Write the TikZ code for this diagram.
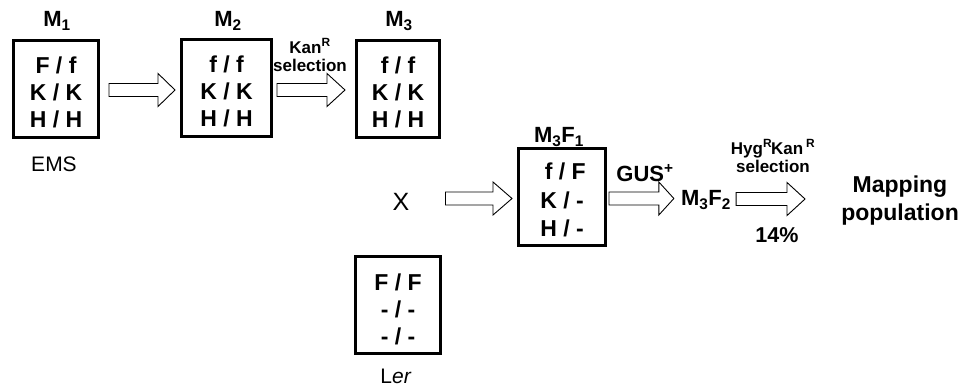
\documentclass[tikz,border=0pt]{standalone}
\usepackage{fontspec}
\setmainfont{Liberation Sans}
\usetikzlibrary{calc}
\newcommand\topstrut{\rule{0pt}{23pt}}
\tikzset{
  genobox/.style={draw, line width=3pt, minimum height=97pt, inner sep=0pt,
    align=center, font=\fontsize{23}{27}\selectfont\bfseries},
  lab/.style={inner sep=0pt, font=\fontsize{22}{26}\selectfont\bfseries},
  small/.style={inner sep=0pt, align=center, font=\fontsize{17}{18}\selectfont\bfseries},
  plain/.style={inner sep=0pt, font=\fontsize{21}{24}\selectfont},
  blk/.style={draw, line width=0.9pt, fill=white, line join=miter},
}
\newcommand\blockarr[3]{%
  \draw[blk] let \p1=(#1), \p2=(#2) in
    (\x1,\y1+6.5pt) -- (\x2-#3pt,\y1+6.5pt) -- (\x2-#3pt,\y1+16.5pt) --
    (\x2,\y1) -- (\x2-#3pt,\y1-16.5pt) -- (\x2-#3pt,\y1-6.5pt) --
    (\x1,\y1-6.5pt) -- cycle;}
\begin{document}
\begin{tikzpicture}[x=1pt,y=-1pt]
\useasboundingbox (0,0) rectangle (960,387);
% boxes
\node[genobox, minimum width=85pt] (m1) at (56,89) {\topstrut F / f\\K / K\\H / H};
\node[genobox, minimum width=90pt] (m2) at (226.5,88) {\topstrut f / f\\K / K\\H / H};
\node[genobox, minimum width=83pt] (m3) at (398,89) {\topstrut f / f\\K / K\\H / H};
\node[genobox, minimum width=87pt, font=\fontsize{23}{28.5}\selectfont\bfseries] (m3f1) at (562,197) {\topstrut\ f / F\\K / -\\H / -};
\node[genobox, minimum width=85pt] (ler) at (398,305) {\rule{0pt}{26pt}F / F\\- / -\\- / -};
% labels
\node[lab] (lm1) at (57,21) {M\textsubscript{1}};
\node[lab] (lm2) at (228,21) {M\textsubscript{2}};
\node[lab] (lm3) at (399,21) {M\textsubscript{3}};
\node[lab] (lm3f1) at (559,137) {M\textsubscript{3}F\textsubscript{1}};
\node[plain] (ems) at (54,164) {EMS};
\node[plain, font=\fontsize{25}{28}\selectfont] (x) at (401,202) {X};
\node[plain] (lerl) at (396,376) {L\textit{er}};
\node[small] (kan) at (310,55) {Kan\textsuperscript{R}\\selection};
\node[lab] (gus) at (645,173) {GUS\textsuperscript{+}};
\node[lab] (m3f2) at (706,200) {M\textsubscript{3}F\textsubscript{2}};
\node[small] (hyg) at (773,156) {Hyg\textsuperscript{R}\kern-1ptKan\,\textsuperscript{R}\\selection};
\node[lab, font=\fontsize{21.5}{24}\selectfont\bfseries] (pct) at (777,235) {14\%};
\node[lab, align=center, font=\fontsize{23}{28}\selectfont\bfseries] (map) at (900,201) {Mapping\\population};
% arrows
\coordinate (a1s) at ($(m1.east)+(9,1)$);
\coordinate (a1e) at ($(m2.west)+(-5,2)$);
\coordinate (a2s) at ($(m2.east)+(4,2)$);
\coordinate (a2e) at ($(m3.west)+(-10,1)$);
\coordinate (a3s) at ($(x.east)+(36,-3.5)$);
\coordinate (a3e) at ($(m3f1.west)+(-5,1.5)$);
\coordinate (a4s) at ($(m3f1.east)+(2,1.5)$);
\coordinate (a4e) at ($(m3f2.west)+(-7,-1.5)$);
\coordinate (a5s) at ($(m3f2.east)+(5,-1)$);
\coordinate (a5e) at ($(map.west)+(-36,-2)$);
\blockarr{a1s}{a1e}{17}
\blockarr{a2s}{a2e}{18}
\blockarr{a3s}{a3e}{19}
\blockarr{a4s}{a4e}{15}
\blockarr{a5s}{a5e}{18}
\end{tikzpicture}
\end{document}
